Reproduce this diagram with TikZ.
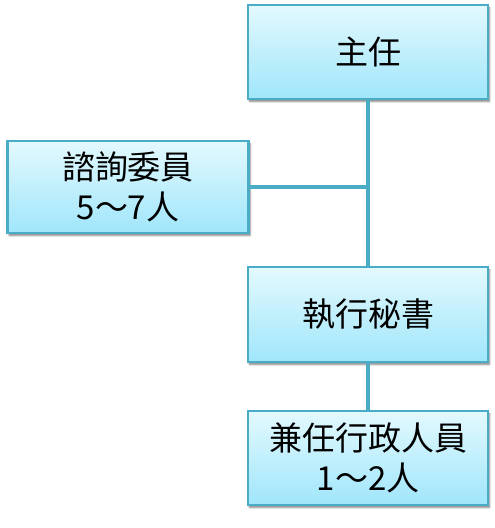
\documentclass[tikz,border=0pt]{standalone}
\usepackage{fontspec}
\newfontfamily\cjk{Noto Sans CJK TC}
\usetikzlibrary{positioning,shadows.blur}
\definecolor{boxline}{RGB}{75,172,198}
\definecolor{boxtop}{RGB}{227,249,254}
\definecolor{boxbottom}{RGB}{160,230,251}
\tikzset{
  orgbox/.style={draw=boxline,line width=2.7pt,top color=boxtop,bottom color=boxbottom,
    minimum width=240pt,inner sep=0pt,align=center,font=\cjk\fontsize{33}{39.5}\selectfont,
    blur shadow={shadow xshift=1.5pt,shadow yshift=-2.5pt,shadow blur steps=6,shadow opacity=50}},
  orgline/.style={draw=boxline,line width=4.5pt}
}
\begin{document}
\begin{tikzpicture}[x=1pt,y=-1pt]
\useasboundingbox (0,0) rectangle (495,528);
\node[orgbox,minimum height=94pt] (head) at (368,52) {主任};
\node[orgbox,minimum height=92pt,minimum width=241pt] (advisor) at (128,187) {諮詢委員\\5～7人};
\node[orgbox,minimum height=95pt] (secretary) at (368,314.5) {執行秘書};
\node[orgbox,minimum height=94pt] (staff) at (368,458) {兼任行政人員\\1～2人};
\begin{scope}[on background layer/.try]
\draw[orgline] (head.south) -- (secretary.north);
\draw[orgline] (advisor.east) -- (advisor.east -| head.south);
\draw[orgline] (secretary.south) -- (staff.north);
\end{scope}
\end{tikzpicture}
\end{document}
